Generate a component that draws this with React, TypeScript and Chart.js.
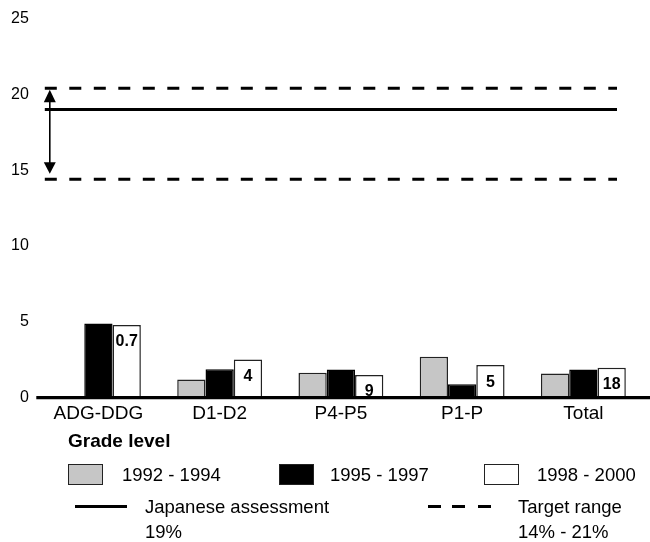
import React, { useEffect, useRef } from "react";
import { Chart, registerables } from "chart.js";

Chart.register(...registerables);

const categories = ["ADG-DDG", "D1-D2", "P4-P5", "P1-P", "Total"];
const series1992 = [null, 1.2, 1.65, 2.7, 1.6];
const series1995 = [4.9, 1.88, 1.86, 0.88, 1.86];
const series1998 = [4.8, 2.52, 1.5, 2.15, 1.97];
const barLabels = ["0.7", "4", "9", "5", "18"];
const japaneseAssessment = 19;
const targetRange = [14.4, 20.4];
const yTicks = [0, 5, 10, 15, 20, 25];

const FONT = "'Liberation Sans', Arial, Helvetica, sans-serif";

const overlayPlugin = {
  id: "overlay",
  afterDatasetsDraw(chart: any) {
    const { ctx, chartArea, scales } = chart;
    const y = scales.y;
    const x0 = chartArea.left + 7;
    const x1 = chartArea.right - 27;
    ctx.save();
    ctx.strokeStyle = "#000";
    ctx.fillStyle = "#000";
    // solid reference line
    ctx.lineWidth = 3;
    ctx.setLineDash([]);
    const ys = y.getPixelForValue(japaneseAssessment);
    ctx.beginPath();
    ctx.moveTo(x0, ys);
    ctx.lineTo(x1, ys);
    ctx.stroke();
    // dashed target range
    ctx.setLineDash([12, 12.5]);
    targetRange.forEach((v) => {
      const yy = y.getPixelForValue(v);
      ctx.beginPath();
      ctx.moveTo(x0, yy);
      ctx.lineTo(x1, yy);
      ctx.stroke();
    });
    ctx.setLineDash([]);
    // double arrow
    const ax = chartArea.left + 12;
    const yTop = y.getPixelForValue(targetRange[1]) + 1.5;
    const yBot = y.getPixelForValue(targetRange[0]) - 5.5;
    ctx.lineWidth = 1.6;
    ctx.beginPath();
    ctx.moveTo(ax, yTop + 10);
    ctx.lineTo(ax, yBot - 10);
    ctx.stroke();
    ctx.beginPath();
    ctx.moveTo(ax, yTop);
    ctx.lineTo(ax - 6, yTop + 12.5);
    ctx.lineTo(ax + 6, yTop + 12.5);
    ctx.closePath();
    ctx.fill();
    ctx.beginPath();
    ctx.moveTo(ax, yBot);
    ctx.lineTo(ax - 6, yBot - 11.5);
    ctx.lineTo(ax + 6, yBot - 11.5);
    ctx.closePath();
    ctx.fill();
    // baseline
    ctx.lineWidth = 3.3;
    const yb = y.getPixelForValue(0);
    ctx.beginPath();
    ctx.moveTo(chartArea.left - 1.5, yb);
    ctx.lineTo(chart.width, yb);
    ctx.stroke();
    // bar labels on white bars
    const meta = chart.getDatasetMeta(2);
    ctx.font = `bold 16px ${FONT}`;
    ctx.textAlign = "center";
    ctx.textBaseline = "middle";
    meta.data.forEach((bar: any, i: number) => {
      ctx.fillText(barLabels[i], bar.x, bar.y + 17);
    });
    ctx.restore();
  },
};

export default function App() {
  const ref = useRef<HTMLCanvasElement>(null);
  useEffect(() => {
    if (!ref.current) return;
    const common = {
      borderWidth: 1.5,
      borderSkipped: "bottom" as const,
      categoryPercentage: 0.7,
      barPercentage: 1.0,
    };
    const chart = new Chart(ref.current, {
      type: "bar",
      data: {
        labels: categories,
        datasets: [
          {
            label: "1992 - 1994",
            data: series1992 as any,
            backgroundColor: "#c6c6c6",
            borderColor: "#222",
            ...common,
          },
          {
            label: "1995 - 1997",
            data: series1995,
            backgroundColor: "#000",
            borderColor: "#000",
            ...common,
          },
          {
            label: "1998 - 2000",
            data: series1998,
            backgroundColor: "#fff",
            borderColor: "#222",
            ...common,
          },
        ],
      },
      options: {
        responsive: false,
        animation: false,
        devicePixelRatio: 1,
        layout: { padding: { top: 18, left: 2, right: 6, bottom: 112.5 } },
        plugins: {
          legend: { display: false },
          tooltip: { enabled: false },
        },
        scales: {
          x: {
            grid: { display: false, drawTicks: false },
            border: { display: false },
            ticks: {
              color: "#000",
              font: { family: FONT, size: 19 },
              padding: 4.5,
            },
          },
          y: {
            min: 0,
            max: 25,
            afterBuildTicks: (axis: any) => {
              axis.ticks = yTicks.map((v) => ({ value: v }));
            },
            grid: { display: false, drawTicks: false },
            border: { display: false },
            ticks: {
              color: "#000",
              font: { family: FONT, size: 16 },
              padding: 9,
            },
          },
        },
      },
      plugins: [overlayPlugin],
    });
    return () => chart.destroy();
  }, []);

  const text: React.CSSProperties = {
    position: "absolute",
    fontFamily: FONT,
    fontSize: 18.5,
    color: "#000",
    lineHeight: "25px",
    whiteSpace: "nowrap",
  };
  const box = (left: number, bg: string): React.CSSProperties => ({
    position: "absolute",
    left,
    top: 464,
    width: 35,
    height: 21,
    background: bg,
    border: "1.5px solid #222",
    boxSizing: "border-box",
  });
  const dash = (left: number, width: number): React.CSSProperties => ({
    position: "absolute",
    left,
    top: 504.5,
    width,
    height: 3,
    background: "#000",
  });

  return (
    <div style={{ position: "absolute", left: 0, top: 0, width: 650, height: 542, background: "#fff" }}>
      <canvas ref={ref} width={650} height={542} style={{ position: "absolute", left: 0, top: 0 }} />
      <div style={{ ...text, left: 68, top: 428, fontWeight: "bold", fontSize: 19 }}>Grade level</div>
      <div style={box(68, "#c6c6c6")} />
      <div style={{ ...text, left: 122, top: 462 }}>1992 - 1994</div>
      <div style={box(279, "#000")} />
      <div style={{ ...text, left: 330, top: 462 }}>1995 - 1997</div>
      <div style={box(484, "#fff")} />
      <div style={{ ...text, left: 537, top: 462 }}>1998 - 2000</div>
      <div style={dash(75, 52)} />
      <div style={{ ...text, left: 145, top: 494 }}>
        Japanese assessment
        <br />
        19%
      </div>
      <div style={dash(428, 13)} />
      <div style={dash(452, 13)} />
      <div style={dash(478, 13)} />
      <div style={{ ...text, left: 518, top: 494 }}>
        Target range
        <br />
        14% - 21%
      </div>
    </div>
  );
}
